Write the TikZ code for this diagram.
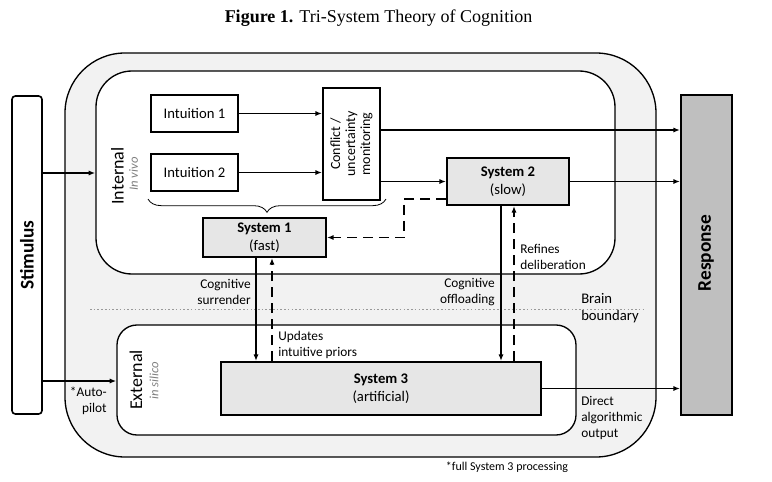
\documentclass[tikz,border=0pt]{standalone}
\usepackage{fontspec}
\setmainfont{Carlito}
\newfontfamily\titlefont{Liberation Serif}
\usetikzlibrary{arrows.meta,decorations.pathreplacing,calc}
\definecolor{outerfill}{HTML}{F2F2F2}
\definecolor{sysfill}{HTML}{E6E6E6}
\definecolor{respfill}{HTML}{BFBFBF}
\definecolor{labgray}{HTML}{7F7F7F}
\begin{document}
\begin{tikzpicture}[x=0.75pt,y=-0.75pt,
  region/.style={draw, line width=1pt, inner sep=0pt},
  box/.style={draw, line width=1.4pt, inner sep=0pt, align=center, font=\fontsize{11}{13.5}\selectfont},
  sysbox/.style={box, fill=sysfill},
  arr/.style={line width=1pt, -{Latex[length=5pt,width=3.8pt]}},
  dashline/.style={line width=1.1pt, dash pattern=on 7.5pt off 4.5pt},
  lab/.style={inner sep=0pt, font=\fontsize{10}{12}\selectfont},
  biglab/.style={inner sep=0pt, rotate=90, font=\fontsize{13.5}{16}\selectfont},
  sublab/.style={inner sep=0pt, rotate=90, text=labgray, font=\fontsize{9.5}{11}\selectfont\itshape}
]
\useasboundingbox (0,0) rectangle (772,482);

% title
\node[inner sep=0pt, font=\titlefont\fontsize{13.5}{16}\selectfont] (title) at (378.5,18) {\textbf{Figure 1.} Tri-System Theory of Cognition};

% regions
\node[region, fill=outerfill, rounded corners=45pt, minimum width=443.25pt, minimum height=303pt] (outer) at (360.5,255) {};
\node[region, fill=white, rounded corners=27pt, minimum width=389.25pt, minimum height=152.25pt] (internal) at (355.5,172.5) {};
\node[region, fill=white, rounded corners=15pt, minimum width=344.25pt, minimum height=82.5pt] (external) at (346.5,380) {};

% stimulus / response
\node[draw, line width=1.2pt, fill=white, rounded corners=2.5pt, minimum width=22.5pt, minimum height=238.5pt, inner sep=0pt] (stim) at (27,255) {};
\node[rotate=90, inner sep=0pt, font=\fontsize{14.5}{16}\selectfont\bfseries] (stimlab) at (stim.center) {Stimulus};
\node[draw, line width=1.4pt, fill=respfill, minimum width=38.25pt, minimum height=240pt, inner sep=0pt] (resp) at (706.5,255) {};
\node[rotate=90, inner sep=0pt, font=\fontsize{14.5}{16}\selectfont\bfseries] (resplab) at (706,253) {Response};

% region labels
\node[biglab] (intlab) at (117.5,176) {Internal};
\node[sublab] (intsub) at (133.5,174) {In vivo};
\node[biglab] (extlab) at (136,380) {External};
\node[sublab] (extsub) at (154,381) {in silico};

% boxes
\node[box, fill=white, minimum width=65.25pt, minimum height=27.75pt] (int1) at (194.5,113.5) {Intuition 1};
\node[box, fill=white, minimum width=65.25pt, minimum height=27.75pt] (int2) at (194.5,172.5) {Intuition 2};
\node[box, fill=white, minimum width=42.75pt, minimum height=84pt] (conflict) at (351.5,144) {};
\node[rotate=90, inner sep=0pt, align=center, font=\fontsize{10.5}{11.25}\selectfont] (conflictlab) at (conflict.center) {Conflict /\\uncertainty\\monitoring};
\node[sysbox, minimum width=92.25pt, minimum height=29.25pt] (sys1) at (264.5,237.5) {\textbf{System 1}\\(fast)};
\node[sysbox, minimum width=91.5pt, minimum height=35.25pt] (sys2) at (508,181.5) {\textbf{System 2}\\(slow)};
\node[sysbox, minimum width=240pt, minimum height=39.75pt] (sys3) at (381,388.5) {\textbf{System 3}\\(artificial)};

% helper coordinates
\coordinate (yIn) at (0,173);
\coordinate (yEx) at (0,381);
\coordinate (yTop) at (0,130);
\coordinate (dA) at (404,199);
\coordinate (dB) at (404,237.5);
\coordinate (xS1) at (256,0);
\coordinate (xU) at (272,0);
\coordinate (xO) at (501,0);
\coordinate (xR) at (514,0);
\coordinate (br1) at (148,199);
\coordinate (br2) at (386,199);
\coordinate (bb1) at (90,309);
\coordinate (bb2) at (643,309);

% brain boundary
\draw[gray!80, line width=0.6pt, dash pattern=on 1.2pt off 1.6pt] (bb1) -- (bb2);

% brace
\draw[line width=0.6pt, decorate, decoration={brace, mirror, amplitude=10pt}] (br1) -- (br2);

% connectors
\draw[arr] (stim.east |- yIn) -- (internal.west |- yIn);
\draw[arr] (stim.east |- yEx) -- (external.west |- yEx);
\draw[arr] (int1.east) -- (conflict.west |- int1.east);
\draw[arr] (int2.east) -- (conflict.west |- int2.east);
\draw[arr] (conflict.east |- yTop) -- (resp.west |- yTop);
\draw[arr] (conflict.east |- sys2.west) -- (sys2.west);
\draw[arr] (sys2.east) -- (resp.west |- sys2.east);
\draw[arr] (sys3.east) -- (resp.west |- sys3.east);
\draw[arr, dashline] (sys2.west |- dA) -- (dA) -- (dB) -- (sys1.east);
\draw[arr] (sys1.south -| xS1) -- (sys3.north -| xS1);
\draw[arr, dashline] (sys3.north -| xU) -- (sys1.south -| xU);
\draw[arr] (sys2.south -| xO) -- (sys3.north -| xO);
\draw[arr, dashline] (sys3.north -| xR) -- (sys2.south -| xR);

% labels
\node[lab, anchor=east, align=right] (lsur) at (251,292) {Cognitive\\surrender};
\node[lab, anchor=west, align=left] (lupd) at (278,345) {Updates\\intuitive priors};
\node[lab, anchor=east, align=right] (loff) at (495,292) {Cognitive\\offloading};
\node[lab, anchor=west, align=left] (lref) at (520,257) {Refines\\deliberation};
\node[inner sep=0pt, anchor=west, align=left, font=\fontsize{11}{12.75}\selectfont] (lbrain) at (581,308.5) {Brain\\boundary};
\node[lab, anchor=west, align=left] (ldir) at (581,417.5) {Direct\\algorithmic\\output};
\node[lab, anchor=east, align=right] (lauto) at (107,400.5) {*Auto-\\pilot};
\node[inner sep=0pt, font=\fontsize{9}{11}\selectfont] (lfoot) at (507,467) {*full System 3 processing};
\end{tikzpicture}
\end{document}
